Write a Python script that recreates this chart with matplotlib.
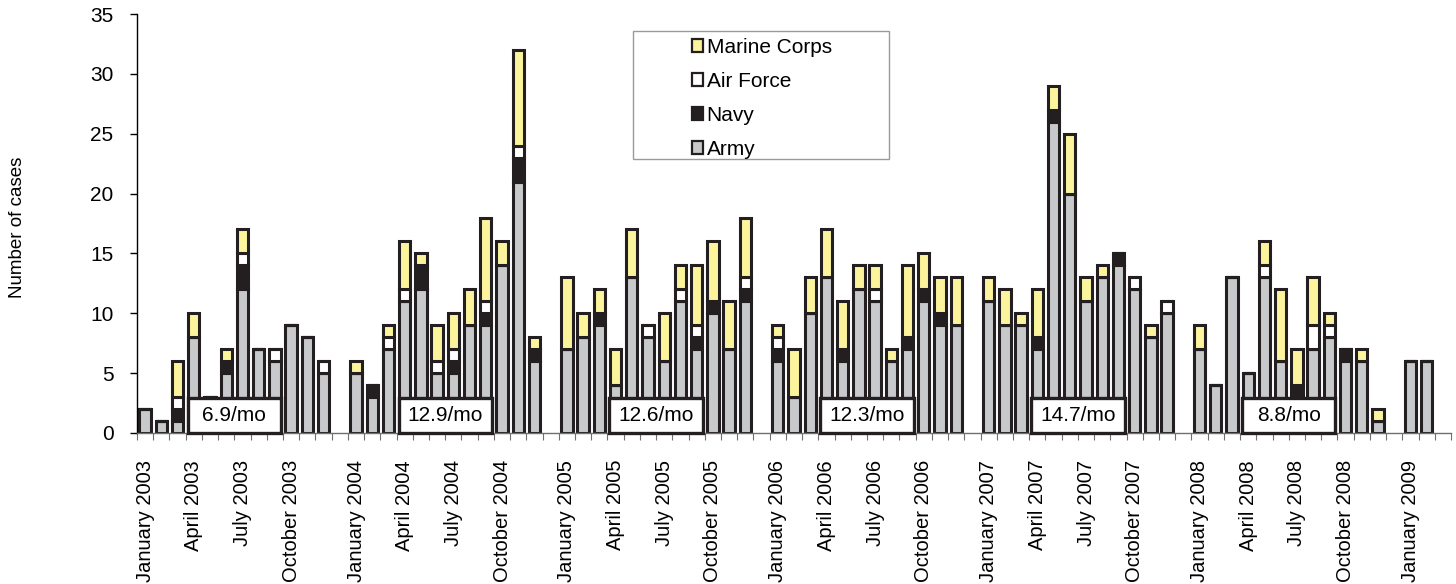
import numpy as np
import matplotlib
matplotlib.use("Agg")
import matplotlib.pyplot as plt
from matplotlib.patches import Patch, Rectangle

plt.rcParams['font.family'] = ['Liberation Sans', 'DejaVu Sans']

years = [2003, 2004, 2005, 2006, 2007, 2008]
month_names = ["January", "April", "July", "October"]

army = {
    2003: [2, 1, 1, 8, 3, 5, 12, 7, 6, 9, 8, 5],
    2004: [5, 3, 7, 11, 12, 5, 5, 9, 9, 14, 21, 6],
    2005: [7, 8, 9, 4, 13, 8, 6, 11, 7, 10, 7, 11],
    2006: [6, 3, 10, 13, 6, 12, 11, 6, 7, 11, 9, 9],
    2007: [11, 9, 9, 7, 26, 20, 11, 13, 14, 12, 8, 10],
    2008: [7, 4, 13, 5, 13, 6, 3, 7, 8, 6, 6, 1],
    2009: [6, 6],
}
navy = {
    2003: [0, 0, 1, 0, 0, 1, 2, 0, 0, 0, 0, 0],
    2004: [0, 1, 0, 0, 2, 0, 1, 0, 1, 0, 2, 1],
    2005: [0, 0, 1, 0, 0, 0, 0, 0, 1, 1, 0, 1],
    2006: [1, 0, 0, 0, 1, 0, 0, 0, 1, 1, 1, 0],
    2007: [0, 0, 0, 1, 1, 0, 0, 0, 1, 0, 0, 0],
    2008: [0, 0, 0, 0, 0, 0, 1, 0, 0, 1, 0, 0],
    2009: [0, 0],
}
air_force = {
    2003: [0, 0, 1, 0, 0, 0, 1, 0, 1, 0, 0, 1],
    2004: [0, 0, 1, 1, 0, 1, 1, 0, 1, 0, 1, 0],
    2005: [0, 0, 0, 0, 0, 1, 0, 1, 1, 0, 0, 1],
    2006: [1, 0, 0, 0, 0, 0, 1, 0, 0, 0, 0, 0],
    2007: [0, 0, 0, 0, 0, 0, 0, 0, 0, 1, 0, 1],
    2008: [0, 0, 0, 0, 1, 0, 0, 2, 1, 0, 0, 0],
    2009: [0, 0],
}
marine_corps = {
    2003: [0, 0, 3, 2, 0, 1, 2, 0, 0, 0, 0, 0],
    2004: [1, 0, 1, 4, 1, 3, 3, 3, 7, 2, 8, 1],
    2005: [6, 2, 2, 3, 4, 0, 4, 2, 5, 5, 4, 5],
    2006: [1, 4, 3, 4, 4, 2, 2, 1, 6, 3, 3, 4],
    2007: [2, 3, 1, 4, 2, 5, 2, 1, 0, 0, 1, 0],
    2008: [2, 0, 0, 0, 2, 6, 3, 4, 1, 0, 1, 1],
    2009: [0, 0],
}
rate_labels = ["6.9/mo", "12.9/mo", "12.6/mo", "12.3/mo", "14.7/mo", "8.8/mo"]

# ---- positions: each year occupies 12 month slots plus one empty slot ----
all_years = years + [2009]
pos, A, N, F, M = [], [], [], [], []
for yi, y in enumerate(all_years):
    for m in range(len(army[y])):
        pos.append(yi * 13 + m)
        A.append(army[y][m]); N.append(navy[y][m])
        F.append(air_force[y][m]); M.append(marine_corps[y][m])
pos = np.array(pos); A = np.array(A); N = np.array(N); F = np.array(F); M = np.array(M)

tick_pos, tick_lab = [], []
for yi, y in enumerate(years):
    for k, mn in enumerate(month_names):
        tick_pos.append(yi * 13 + 3 * k)
        tick_lab.append(f"{mn} {y}")
tick_pos.append(6 * 13)
tick_lab.append("January 2009")

c_army = "#c8c9cb"
c_navy = "#231f20"
c_af = "#ffffff"
c_mc = "#fbf49c"
edge = "#231f20"

fig = plt.figure(figsize=(14.56, 5.84), dpi=100)
W, H = 1456, 584
ax = fig.add_axes([137 / W, 1 - 433 / H, (1451 - 137) / W, (433 - 14) / H])

bw = 0.7
lw = 2.2
kw = dict(width=bw, edgecolor=edge, linewidth=lw, zorder=2)
ax.bar(pos, A, color=c_army, **kw)
ax.bar(pos, N, bottom=A, color=c_navy, **kw)
ax.bar(pos, F, bottom=A + N, color=c_af, **kw)
ax.bar(pos, M, bottom=A + N + F, color=c_mc, **kw)

ax.set_xlim(-0.5, 80.5)
ax.set_ylim(0, 35)
ax.set_yticks(range(0, 36, 5))
ax.tick_params(axis='y', labelsize=15, length=5, width=1, pad=12, direction='out')

ax.set_xticks(tick_pos)
ax.set_xticklabels(tick_lab, rotation=90, fontsize=14.5, ha='center', va='top')
ax.tick_params(axis='x', which='major', length=0, pad=27 * 72 / 100)
ax.set_xticks(np.arange(-0.5, 81, 1), minor=True)
ax.tick_params(axis='x', which='minor', length=5, width=0.8, color='#707070', direction='out')

for s in ['top', 'right']:
    ax.spines[s].set_visible(False)
ax.spines['left'].set_linewidth(1.0)
ax.spines['bottom'].set_linewidth(1.0)
ax.spines['bottom'].set_color('#707070')

# per-year rate boxes
for yi, lab in enumerate(rate_labels):
    cx = yi * 13 + 5.5
    bwid = 5.75
    ax.add_patch(Rectangle((cx - bwid / 2, 0.0), bwid, 2.92, facecolor='white',
                           edgecolor=edge, linewidth=2.4, zorder=4, clip_on=False))
    ax.text(cx, 1.5, lab, ha='center', va='center', fontsize=15, zorder=5)

fig.text(18 / W, 1 - 227 / H, "Number of cases", rotation=90, ha='center', va='center', fontsize=13.5)

# legend
fig.patches.append(Rectangle((633 / W, 1 - 159 / H), (889 - 633) / W, (159 - 31) / H,
                             transform=fig.transFigure, facecolor='white',
                             edgecolor='#9a9a9a', linewidth=1.0, zorder=3))
handles = [Patch(facecolor=c_mc, edgecolor=edge, linewidth=1.6, label="Marine Corps"),
           Patch(facecolor=c_af, edgecolor=edge, linewidth=1.6, label="Air Force"),
           Patch(facecolor=c_navy, edgecolor=edge, linewidth=1.6, label="Navy"),
           Patch(facecolor=c_army, edgecolor=edge, linewidth=1.6, label="Army")]
leg = fig.legend(handles=handles, loc='upper left', bbox_to_anchor=(692 / W, 1 - 38 / H),
                 bbox_transform=fig.transFigure, frameon=False, fontsize=15,
                 handlelength=0.55, handleheight=0.55, handletextpad=0.15,
                 labelspacing=0.72, borderpad=0, borderaxespad=0)
leg.set_zorder(4)

fig.savefig("out.png", dpi=100)
